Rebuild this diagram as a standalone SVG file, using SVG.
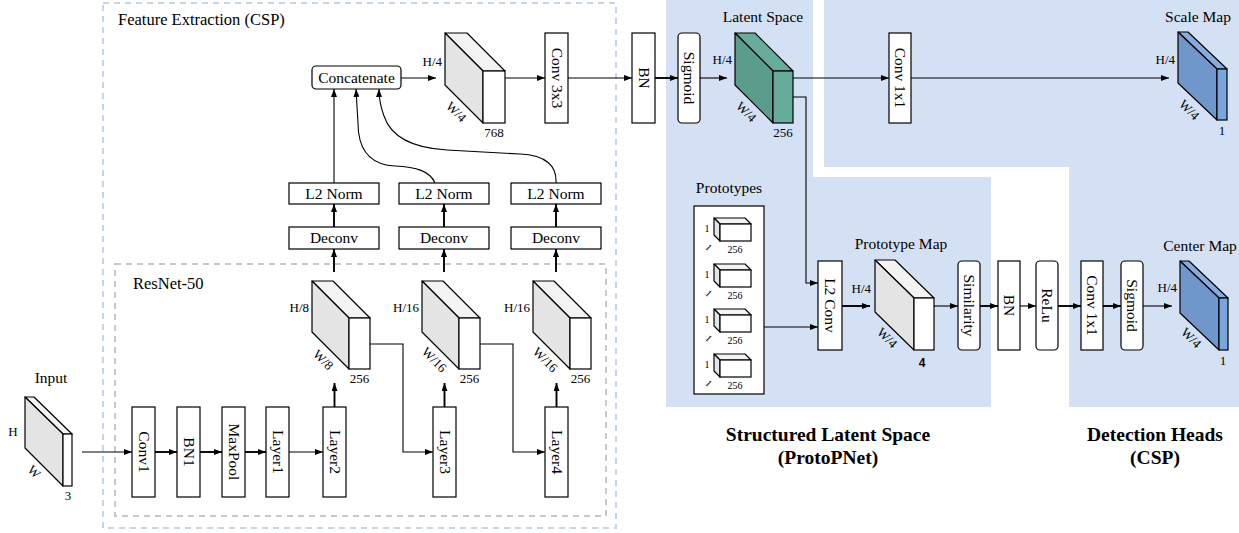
<svg xmlns="http://www.w3.org/2000/svg" width="1239" height="533" viewBox="0 0 1239 533">
<style>
text{font-family:"Liberation Serif","Times New Roman",serif;fill:#000}
.lbl{font-size:15.5px}
.dim{font-size:13px}
.sm{font-size:10px}
.head{font-size:19.5px;font-weight:bold}
.box{fill:#fff;stroke:#000;stroke-width:1.2}
.cf{fill:#e4e4e4;stroke:#000;stroke-width:1.2;stroke-linejoin:round}
.ct{fill:#f3f3f3;stroke:#000;stroke-width:1.2;stroke-linejoin:round}
.cr{fill:#fff;stroke:#000;stroke-width:1.2}
.gf{fill:#5b9d8d;stroke:#000;stroke-width:1.2;stroke-linejoin:round}
.gt{fill:#6aac9c;stroke:#000;stroke-width:1.2;stroke-linejoin:round}
.gr{fill:#67ab9b;stroke:#000;stroke-width:1.2}
.bf{fill:#6f97cc;stroke:#000;stroke-width:1.2;stroke-linejoin:round}
.bt{fill:#87abdc;stroke:#000;stroke-width:1.2;stroke-linejoin:round}
.br{fill:#7aa5dd;stroke:#000;stroke-width:1.2}
.ln{fill:none;stroke:#000;stroke-width:1.1}
.thk{stroke-width:1.9}
.bg{fill:#d4e1f4}
</style>
<defs>
<marker id="ah" viewBox="0 0 8 6" refX="8" refY="3" markerWidth="8" markerHeight="6" markerUnits="userSpaceOnUse" orient="auto">
<path d="M0,0 L8,3 L0,6 z" fill="#000"/>
</marker>
</defs>

<g id="backgrounds">
<polygon class="bg" points="666,0 813,0 813,177 991,177 991,407 666,407"/>
<polygon class="bg" points="824,0 1239,0 1239,407 1069,407 1069,167 824,167"/>
<rect x="103" y="3" width="513" height="525" fill="none" stroke="#c5d5ee" stroke-width="2" stroke-dasharray="6 5"/>
<rect x="115" y="264" width="491" height="252" fill="none" stroke="#c9c9c9" stroke-width="2" stroke-dasharray="6 5"/>
</g>

<g id="titles">
<text class="lbl" x="118" y="25" style="font-size:16.5px">Feature Extraction (CSP)</text>
<text class="lbl" x="133" y="289" style="font-size:16.5px">ResNet-50</text>
<text class="head" x="828" y="441" text-anchor="middle">Structured Latent Space</text>
<text class="head" x="828" y="464" text-anchor="middle">(ProtoPNet)</text>
<text class="head" x="1155" y="441" text-anchor="middle">Detection Heads</text>
<text class="head" x="1155" y="464" text-anchor="middle">(CSP)</text>
</g>

<g id="connectors">
<path class="ln" d="M82,452 H132" marker-end="url(#ah)"/>
<path class="ln thk" d="M155,452 H177" marker-end="url(#ah)"/>
<path class="ln thk" d="M200,452 H222" marker-end="url(#ah)"/>
<path class="ln thk" d="M245,452 H266" marker-end="url(#ah)"/>
<path class="ln" d="M289,452 H323" marker-end="url(#ah)"/>
<path class="ln thk" d="M334.5,407 V383" marker-end="url(#ah)"/>
<path class="ln" d="M370,344 H403 V452 H433" marker-end="url(#ah)"/>
<path class="ln thk" d="M444.5,407 V383" marker-end="url(#ah)"/>
<path class="ln" d="M480,344 H513 V452 H545" marker-end="url(#ah)"/>
<path class="ln thk" d="M556.5,407 V383" marker-end="url(#ah)"/>
<path class="ln thk" d="M334,272 V249" marker-end="url(#ah)"/>
<path class="ln thk" d="M444,272 V249" marker-end="url(#ah)"/>
<path class="ln thk" d="M556,272 V249" marker-end="url(#ah)"/>
<path class="ln thk" d="M334,227 V204" marker-end="url(#ah)"/>
<path class="ln thk" d="M444,227 V204" marker-end="url(#ah)"/>
<path class="ln thk" d="M556,227 V204" marker-end="url(#ah)"/>
<path class="ln" d="M334,183 V89" marker-end="url(#ah)"/>
<path class="ln" d="M435,183 C430,171 416,167 395,166 C371,165 361,152 358.5,132 L356,89" marker-end="url(#ah)"/>
<path class="ln" d="M556,183 C557,166 546,155 520,154 L447,150 C412,148 391,137 384,116 C381,108 379,100 379,89" marker-end="url(#ah)"/>
<path class="ln" d="M401,78 H436" marker-end="url(#ah)"/>
<path class="ln" d="M505,78 H545" marker-end="url(#ah)"/>
<path class="ln" d="M568,78 H632" marker-end="url(#ah)"/>
<path class="ln thk" d="M655,78 H678" marker-end="url(#ah)"/>
<path class="ln" d="M700,78 H727" marker-end="url(#ah)"/>
<path class="ln" d="M793,78 H889" marker-end="url(#ah)"/>
<path class="ln" d="M911,78 H1169" marker-end="url(#ah)"/>
<path class="ln" d="M793,97 H806 V283 H818" marker-end="url(#ah)"/>
<path class="ln" d="M764,327 H818" marker-end="url(#ah)"/>
<path class="ln thk" d="M842,306 H870" marker-end="url(#ah)"/>
<path class="ln" d="M934,306 H958" marker-end="url(#ah)"/>
<path class="ln thk" d="M980,306 H998" marker-end="url(#ah)"/>
<path class="ln" d="M1020,306 H1036" marker-end="url(#ah)"/>
<path class="ln thk" d="M1058,306 H1081" marker-end="url(#ah)"/>
<path class="ln thk" d="M1103,306 H1121" marker-end="url(#ah)"/>
<path class="ln" d="M1143,306 H1172" marker-end="url(#ah)"/>
</g>

<g id="input">
<text class="lbl" x="51" y="383" text-anchor="middle">Input</text>
<polygon class="ct" points="25,397 34,397 72,434 63,434"/>
<polygon class="cf" points="25,397 63,434 63,486 25,448"/>
<rect class="cr" x="63" y="434" width="9" height="52"/>
<text class="dim" x="13" y="436" text-anchor="middle">H</text>
<text class="dim" x="34" y="476" text-anchor="middle" transform="rotate(45 34 472)">W</text>
<text class="dim" x="68" y="500" text-anchor="middle">3</text>
</g>

<g id="conv1"><rect class="box" x="132" y="407" width="23" height="90"/><text class="lbl" transform="translate(143.5,452) rotate(90)" text-anchor="middle" dy="5">Conv1</text></g>
<g id="bn1"><rect class="box" x="177" y="407" width="23" height="90"/><text class="lbl" transform="translate(188.5,452) rotate(90)" text-anchor="middle" dy="5">BN1</text></g>
<g id="maxpool"><rect class="box" x="222" y="407" width="23" height="90"/><text class="lbl" transform="translate(233.5,452) rotate(90)" text-anchor="middle" dy="5">MaxPool</text></g>
<g id="layer1"><rect class="box" x="266" y="407" width="23" height="90"/><text class="lbl" transform="translate(277.5,452) rotate(90)" text-anchor="middle" dy="5">Layer1</text></g>
<g id="layer2"><rect class="box" x="323" y="407" width="23" height="90"/><text class="lbl" transform="translate(334.5,452) rotate(90)" text-anchor="middle" dy="5">Layer2</text></g>
<g id="layer3"><rect class="box" x="433" y="407" width="23" height="90"/><text class="lbl" transform="translate(444.5,452) rotate(90)" text-anchor="middle" dy="5">Layer3</text></g>
<g id="layer4"><rect class="box" x="545" y="407" width="23" height="90"/><text class="lbl" transform="translate(556.5,452) rotate(90)" text-anchor="middle" dy="5">Layer4</text></g>

<g id="feat-l2">
<polygon class="ct" points="312,281 333,281 370,318 349,318"/>
<polygon class="cf" points="312,281 349,318 349,369 312,332"/>
<rect class="cr" x="349" y="318" width="21" height="51"/>
<text class="dim" x="309" y="312" text-anchor="end">H/8</text>
<text class="dim" x="323" y="364" text-anchor="middle" transform="rotate(45 323 360)">W/8</text>
<text class="dim" x="359.5" y="383" text-anchor="middle">256</text>
</g>
<g id="feat-l3">
<polygon class="ct" points="422,281 443,281 480,318 459,318"/>
<polygon class="cf" points="422,281 459,318 459,369 422,332"/>
<rect class="cr" x="459" y="318" width="21" height="51"/>
<text class="dim" x="419" y="312" text-anchor="end">H/16</text>
<text class="dim" x="434" y="364" text-anchor="middle" transform="rotate(45 434 360)">W/16</text>
<text class="dim" x="469.5" y="383" text-anchor="middle">256</text>
</g>
<g id="feat-l4">
<polygon class="ct" points="533,281 554,281 591,318 570,318"/>
<polygon class="cf" points="533,281 570,318 570,369 533,332"/>
<rect class="cr" x="570" y="318" width="21" height="51"/>
<text class="dim" x="530" y="312" text-anchor="end">H/16</text>
<text class="dim" x="545" y="364" text-anchor="middle" transform="rotate(45 545 360)">W/16</text>
<text class="dim" x="580.5" y="383" text-anchor="middle">256</text>
</g>

<g id="deconv1"><rect class="box" x="289" y="227" width="90" height="22"/><text class="lbl" x="334" y="243" text-anchor="middle">Deconv</text></g>
<g id="deconv2"><rect class="box" x="399" y="227" width="90" height="22"/><text class="lbl" x="444" y="243" text-anchor="middle">Deconv</text></g>
<g id="deconv3"><rect class="box" x="511" y="227" width="90" height="22"/><text class="lbl" x="556" y="243" text-anchor="middle">Deconv</text></g>
<g id="l2norm1"><rect class="box" x="289" y="183" width="90" height="21"/><text class="lbl" x="334" y="199" text-anchor="middle">L2 Norm</text></g>
<g id="l2norm2"><rect class="box" x="399" y="183" width="90" height="21"/><text class="lbl" x="444" y="199" text-anchor="middle">L2 Norm</text></g>
<g id="l2norm3"><rect class="box" x="511" y="183" width="90" height="21"/><text class="lbl" x="556" y="199" text-anchor="middle">L2 Norm</text></g>

<g id="concatenate"><rect class="box" x="312" y="66" width="89" height="23" rx="4"/><text class="lbl" x="356.5" y="82.5" text-anchor="middle">Concatenate</text></g>

<g id="feat-768">
<polygon class="ct" points="445,33 467,33 505,71 483,71"/>
<polygon class="cf" points="445,33 483,71 483,123 445,85"/>
<rect class="cr" x="483" y="71" width="22" height="52"/>
<text class="dim" x="442" y="66" text-anchor="end">H/4</text>
<text class="dim" x="456" y="116" text-anchor="middle" transform="rotate(45 456 112)">W/4</text>
<text class="dim" x="494" y="137" text-anchor="middle">768</text>
</g>

<g id="conv3x3"><rect class="box" x="545" y="33" width="23" height="90"/><text class="lbl" transform="translate(556.5,78) rotate(90)" text-anchor="middle" dy="5">Conv 3x3</text></g>
<g id="bn-top"><rect class="box" x="632" y="33" width="23" height="90"/><text class="lbl" transform="translate(643.5,78) rotate(90)" text-anchor="middle" dy="5">BN</text></g>
<g id="sigmoid-top"><rect class="box" x="678" y="33" width="22" height="90" rx="4"/><text class="lbl" transform="translate(689,78) rotate(90)" text-anchor="middle" dy="5">Sigmoid</text></g>

<g id="latent">
<text class="lbl" x="763" y="22" text-anchor="middle">Latent Space</text>
<polygon class="gt" points="735,33 755,33 793,71 773,71"/>
<polygon class="gf" points="735,33 773,71 773,123 735,85"/>
<rect class="gr" x="773" y="71" width="20" height="52"/>
<text class="dim" x="732" y="64" text-anchor="end">H/4</text>
<text class="dim" x="746" y="116" text-anchor="middle" transform="rotate(45 746 112)">W/4</text>
<text class="dim" x="783" y="137" text-anchor="middle">256</text>
</g>

<g id="conv1x1-top"><rect class="box" x="889" y="33" width="22" height="90"/><text class="lbl" transform="translate(900,78) rotate(90)" text-anchor="middle" dy="5">Conv 1x1</text></g>

<g id="scale-map">
<text class="lbl" x="1198" y="22" text-anchor="middle">Scale Map</text>
<polygon class="bt" points="1178,32 1188,32 1227,69 1217,69"/>
<polygon class="bf" points="1178,32 1217,69 1217,120 1178,83"/>
<rect class="br" x="1217" y="69" width="10" height="51"/>
<text class="dim" x="1175" y="64" text-anchor="end">H/4</text>
<text class="dim" x="1189" y="114" text-anchor="middle" transform="rotate(45 1189 110)">W/4</text>
<text class="dim" x="1222" y="135" text-anchor="middle">1</text>
</g>

<g id="prototypes">
<text class="lbl" x="729" y="193" text-anchor="middle">Prototypes</text>
<rect class="box" x="694" y="206" width="70" height="188"/>
<g id="proto1">
<polygon class="ct" points="714,218 745,218 751,224 720,224"/>
<polygon class="cf" points="714,218 720,224 720,241 714,235"/>
<rect class="cr" x="720" y="224" width="31" height="17"/>
<text class="sm" x="707" y="232" text-anchor="middle">1</text>
<text class="sm" x="709" y="251" text-anchor="middle" transform="rotate(45 709 247)">1</text>
<text class="sm" x="735" y="253" text-anchor="middle">256</text>
</g>
<g id="proto2">
<polygon class="ct" points="714,264 745,264 751,270 720,270"/>
<polygon class="cf" points="714,264 720,270 720,287 714,281"/>
<rect class="cr" x="720" y="270" width="31" height="17"/>
<text class="sm" x="707" y="278" text-anchor="middle">1</text>
<text class="sm" x="709" y="297" text-anchor="middle" transform="rotate(45 709 293)">1</text>
<text class="sm" x="735" y="299" text-anchor="middle">256</text>
</g>
<g id="proto3">
<polygon class="ct" points="714,309 745,309 751,315 720,315"/>
<polygon class="cf" points="714,309 720,315 720,332 714,326"/>
<rect class="cr" x="720" y="315" width="31" height="17"/>
<text class="sm" x="707" y="323" text-anchor="middle">1</text>
<text class="sm" x="709" y="342" text-anchor="middle" transform="rotate(45 709 338)">1</text>
<text class="sm" x="735" y="344" text-anchor="middle">256</text>
</g>
<g id="proto4">
<polygon class="ct" points="714,354 745,354 751,360 720,360"/>
<polygon class="cf" points="714,354 720,360 720,377 714,371"/>
<rect class="cr" x="720" y="360" width="31" height="17"/>
<text class="sm" x="707" y="368" text-anchor="middle">1</text>
<text class="sm" x="709" y="387" text-anchor="middle" transform="rotate(45 709 383)">1</text>
<text class="sm" x="735" y="389" text-anchor="middle">256</text>
</g>
</g>

<g id="l2conv"><rect class="box" x="818" y="261" width="24" height="89"/><text class="lbl" transform="translate(830,305.5) rotate(90)" text-anchor="middle" dy="5">L2 Conv</text></g>

<g id="prototype-map">
<text class="lbl" x="901" y="249" text-anchor="middle">Prototype Map</text>
<polygon class="ct" points="875,260 895,260 934,298 914,298"/>
<polygon class="cf" points="875,260 914,298 914,350 875,312"/>
<rect class="cr" x="914" y="298" width="20" height="52"/>
<text class="dim" x="871" y="293" text-anchor="end">H/4</text>
<text class="dim" x="887" y="342" text-anchor="middle" transform="rotate(45 887 338)">W/4</text>
<text x="922" y="367" text-anchor="middle" style="font-family:'Liberation Sans',Arial,sans-serif;font-size:12px;font-weight:bold">4</text>
</g>

<g id="similarity"><rect class="box" x="958" y="261" width="22" height="89" rx="4"/><text class="lbl" transform="translate(969,305.5) rotate(90)" text-anchor="middle" dy="5">Similarity</text></g>
<g id="bn-bottom"><rect class="box" x="998" y="261" width="22" height="89"/><text class="lbl" transform="translate(1009,305.5) rotate(90)" text-anchor="middle" dy="5">BN</text></g>
<g id="relu"><rect class="box" x="1036" y="261" width="22" height="89" rx="4"/><text class="lbl" transform="translate(1047,305.5) rotate(90)" text-anchor="middle" dy="5">ReLu</text></g>
<g id="conv1x1-bottom"><rect class="box" x="1081" y="261" width="22" height="89"/><text class="lbl" transform="translate(1092,305.5) rotate(90)" text-anchor="middle" dy="5">Conv 1x1</text></g>
<g id="sigmoid-bottom"><rect class="box" x="1121" y="261" width="22" height="89" rx="4"/><text class="lbl" transform="translate(1132,305.5) rotate(90)" text-anchor="middle" dy="5">Sigmoid</text></g>

<g id="center-map">
<text class="lbl" x="1200" y="251" text-anchor="middle">Center Map</text>
<polygon class="bt" points="1180,261 1189,261 1228,298 1219,298"/>
<polygon class="bf" points="1180,261 1219,298 1219,350 1180,313"/>
<rect class="br" x="1219" y="298" width="9" height="52"/>
<text class="dim" x="1177" y="292" text-anchor="end">H/4</text>
<text class="dim" x="1191" y="342" text-anchor="middle" transform="rotate(45 1191 338)">W/4</text>
<text class="dim" x="1223" y="365" text-anchor="middle">1</text>
</g>
</svg>
